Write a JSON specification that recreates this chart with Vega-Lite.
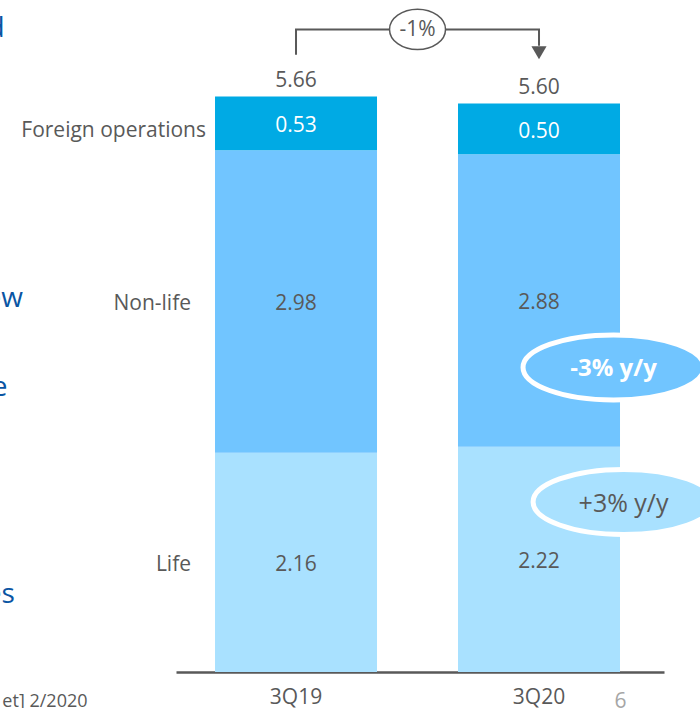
{
  "$schema": "https://vega.github.io/schema/vega-lite/v6.json",
  "width": 488,
  "height": 672,
  "autosize": {"type": "none"},
  "padding": {"left": 176, "top": 0, "right": 36, "bottom": 36},
  "background": "white",
  "config": {
    "view": {"stroke": null},
    "font": "Open Sans",
    "text": {"font": "Open Sans"},
    "axisX": {
      "title": null,
      "domainColor": "#595959",
      "domainWidth": 2.5,
      "ticks": false,
      "tickSize": 0,
      "labelPadding": 14,
      "labelFontSize": 21,
      "labelColor": "#595959",
      "labelFont": "Open Sans",
      "labelAngle": 0
    }
  },
  "datasets": {
    "main": [
      {"q": "3Q19", "seg": "Life", "v": 2.16, "ord": 1},
      {"q": "3Q19", "seg": "Non-life", "v": 2.98, "ord": 2},
      {"q": "3Q19", "seg": "Foreign operations", "v": 0.53, "ord": 3},
      {"q": "3Q20", "seg": "Life", "v": 2.22, "ord": 1},
      {"q": "3Q20", "seg": "Non-life", "v": 2.88, "ord": 2},
      {"q": "3Q20", "seg": "Foreign operations", "v": 0.50, "ord": 3}
    ],
    "totals": [
      {"q": "3Q19", "total": 5.66},
      {"q": "3Q20", "total": 5.60}
    ],
    "bracket": [
      {"q": "3Q19", "yv": 6.08, "o": 1},
      {"q": "3Q19", "yv": 6.33, "o": 2},
      {"q": "3Q20", "yv": 6.33, "o": 3},
      {"q": "3Q20", "yv": 6.17, "o": 4}
    ],
    "arrow": [{"q": "3Q20", "yv": 6.1}],
    "change": [{"q": "3Q19", "yv": 6.33, "label": "-1%"}],
    "yoy": [
      {"q": "3Q20", "seg": "Non-life", "yv": 3.0, "label": "-3% y/y"},
      {"q": "3Q20", "seg": "Life", "yv": 1.675, "label": "+3% y/y"}
    ],
    "notes": [
      {"q": "3Q19", "txt": "d", "yv": 6.256},
      {"q": "3Q19", "txt": "ew", "yv": 3.675},
      {"q": "3Q19", "txt": "e", "yv": 2.798},
      {"q": "3Q19", "txt": "es", "yv": 0.759},
      {"q": "3Q19", "txt": "et] 2/2020", "yv": -0.34},
      {"q": "3Q20", "txt": "6", "yv": -0.35}
    ]
  },
  "layer": [
    {
      "data": {"name": "main"},
      "mark": {"type": "bar"},
      "encoding": {
        "x": {"field": "q", "type": "nominal", "title": null,
              "scale": {"type": "band", "domain": ["3Q19", "3Q20"], "paddingInner": 0.3333, "paddingOuter": 0.1708, "align": 0.47}},
        "y": {"aggregate": "sum", "field": "v", "type": "quantitative", "stack": "zero", "axis": null,
              "scale": {"domain": [0, 6.62], "nice": false, "zero": true}},
        "color": {"field": "seg", "type": "nominal", "legend": null,
                  "scale": {"domain": ["Life", "Non-life", "Foreign operations"], "range": ["#A9E1FF", "#71C5FF", "#00AAE4"]}},
        "order": {"field": "ord", "type": "quantitative"}
      }
    },
    {
      "data": {"name": "main"},
      "transform": [
        {"stack": "v", "groupby": ["q"], "sort": [{"field": "ord", "order": "ascending"}], "as": ["y0", "y1"]},
        {"fold": ["y0", "y1"], "as": ["k", "yy"]}
      ],
      "mark": {"type": "text", "fontSize": 21, "align": "center", "baseline": "middle", "dy": 3},
      "encoding": {
        "x": {"field": "q", "type": "nominal", "title": null, "scale": {"type": "band", "domain": ["3Q19", "3Q20"], "paddingInner": 0.3333, "paddingOuter": 0.1708, "align": 0.47}},
        "y": {"aggregate": "mean", "field": "yy", "type": "quantitative", "stack": null, "axis": null},
        "detail": {"field": "seg", "type": "nominal"},
        "text": {"field": "v", "type": "quantitative", "format": ".2f"},
        "color": {"condition": {"test": "datum.seg === 'Foreign operations'", "value": "#ffffff"}, "value": "#595959"}
      }
    },
    {
      "data": {"name": "main"},
      "transform": [
        {"stack": "v", "groupby": ["q"], "sort": [{"field": "ord", "order": "ascending"}], "as": ["y0", "y1"]},
        {"filter": "datum.q === '3Q19' && datum.seg === 'Foreign operations'"},
        {"fold": ["y0", "y1"], "as": ["k", "yy"]}
      ],
      "mark": {"type": "text", "fontSize": 21, "align": "right", "baseline": "middle", "color": "#595959", "dx": -9, "dy": 8},
      "encoding": {
        "x": {"field": "q", "type": "nominal", "title": null, "bandPosition": 0, "scale": {"type": "band", "domain": ["3Q19", "3Q20"], "paddingInner": 0.3333, "paddingOuter": 0.1708, "align": 0.47}},
        "y": {"aggregate": "mean", "field": "yy", "type": "quantitative", "stack": null, "axis": null},
        "text": {"field": "seg", "type": "nominal"}
      }
    },
    {
      "data": {"name": "main"},
      "transform": [
        {"stack": "v", "groupby": ["q"], "sort": [{"field": "ord", "order": "ascending"}], "as": ["y0", "y1"]},
        {"filter": "datum.q === '3Q19' && datum.seg !== 'Foreign operations'"},
        {"fold": ["y0", "y1"], "as": ["k", "yy"]}
      ],
      "mark": {"type": "text", "fontSize": 21, "align": "right", "baseline": "middle", "color": "#595959", "dx": -24, "dy": 3},
      "encoding": {
        "x": {"field": "q", "type": "nominal", "title": null, "bandPosition": 0, "scale": {"type": "band", "domain": ["3Q19", "3Q20"], "paddingInner": 0.3333, "paddingOuter": 0.1708, "align": 0.47}},
        "y": {"aggregate": "mean", "field": "yy", "type": "quantitative", "stack": null, "axis": null},
        "text": {"field": "seg", "type": "nominal"}
      }
    },
    {
      "data": {"name": "totals"},
      "mark": {"type": "text", "fontSize": 21, "align": "center", "baseline": "alphabetic", "color": "#595959", "dy": -10},
      "encoding": {
        "x": {"field": "q", "type": "nominal", "title": null, "scale": {"type": "band", "domain": ["3Q19", "3Q20"], "paddingInner": 0.3333, "paddingOuter": 0.1708, "align": 0.47}},
        "y": {"field": "total", "type": "quantitative", "axis": null},
        "text": {"field": "total", "type": "quantitative", "format": ".2f"}
      }
    },
    {
      "data": {"name": "bracket"},
      "mark": {"type": "line", "color": "#595959", "strokeWidth": 2},
      "encoding": {
        "x": {"field": "q", "type": "nominal", "title": null, "scale": {"type": "band", "domain": ["3Q19", "3Q20"], "paddingInner": 0.3333, "paddingOuter": 0.1708, "align": 0.47}},
        "y": {"field": "yv", "type": "quantitative", "axis": null},
        "order": {"field": "o", "type": "quantitative"}
      }
    },
    {
      "data": {"name": "arrow"},
      "mark": {"type": "point", "shape": "triangle-down", "filled": true, "color": "#595959", "size": 230, "opacity": 1},
      "encoding": {
        "x": {"field": "q", "type": "nominal", "title": null, "scale": {"type": "band", "domain": ["3Q19", "3Q20"], "paddingInner": 0.3333, "paddingOuter": 0.1708, "align": 0.47}},
        "y": {"field": "yv", "type": "quantitative", "axis": null}
      }
    },
    {
      "data": {"name": "change"},
      "mark": {"type": "point", "shape": "M -1 0 A 1 0.72 0 1 1 1 0 A 1 0.72 0 1 1 -1 0 Z", "filled": true, "fill": "#ffffff", "stroke": "#595959", "strokeWidth": 1.5, "size": 3136, "opacity": 1, "fillOpacity": 1, "strokeOpacity": 1},
      "encoding": {
        "x": {"field": "q", "type": "nominal", "title": null, "bandPosition": 1.25, "scale": {"type": "band", "domain": ["3Q19", "3Q20"], "paddingInner": 0.3333, "paddingOuter": 0.1708, "align": 0.47}},
        "y": {"field": "yv", "type": "quantitative", "axis": null}
      }
    },
    {
      "data": {"name": "change"},
      "mark": {"type": "text", "fontSize": 21, "align": "center", "baseline": "middle", "color": "#595959", "dy": 1},
      "encoding": {
        "x": {"field": "q", "type": "nominal", "title": null, "bandPosition": 1.25, "scale": {"type": "band", "domain": ["3Q19", "3Q20"], "paddingInner": 0.3333, "paddingOuter": 0.1708, "align": 0.47}},
        "y": {"field": "yv", "type": "quantitative", "axis": null},
        "text": {"field": "label", "type": "nominal"}
      }
    },
    {
      "data": {"name": "yoy"},
      "transform": [{"filter": "datum.seg === 'Non-life'"}],
      "mark": {"type": "point", "shape": "M -1 0 A 1 0.36 0 1 1 1 0 A 1 0.36 0 1 1 -1 0 Z", "filled": true, "stroke": "#ffffff", "strokeWidth": 5, "size": 32761, "opacity": 1, "strokeOpacity": 1},
      "encoding": {
        "x": {"field": "q", "type": "nominal", "title": null, "bandPosition": 0.96, "scale": {"type": "band", "domain": ["3Q19", "3Q20"], "paddingInner": 0.3333, "paddingOuter": 0.1708, "align": 0.47}},
        "y": {"field": "yv", "type": "quantitative", "axis": null},
        "color": {"field": "seg", "type": "nominal", "legend": null}
      }
    },
    {
      "data": {"name": "yoy"},
      "transform": [{"filter": "datum.seg === 'Non-life'"}],
      "mark": {"type": "text", "fontSize": 24, "fontWeight": "bold", "align": "center", "baseline": "middle", "color": "#ffffff", "dy": 2},
      "encoding": {
        "x": {"field": "q", "type": "nominal", "title": null, "bandPosition": 0.96, "scale": {"type": "band", "domain": ["3Q19", "3Q20"], "paddingInner": 0.3333, "paddingOuter": 0.1708, "align": 0.47}},
        "y": {"field": "yv", "type": "quantitative", "axis": null},
        "text": {"field": "label", "type": "nominal"}
      }
    },
    {
      "data": {"name": "yoy"},
      "transform": [{"filter": "datum.seg === 'Life'"}],
      "mark": {"type": "point", "shape": "M -1 0 A 1 0.36 0 1 1 1 0 A 1 0.36 0 1 1 -1 0 Z", "filled": true, "stroke": "#ffffff", "strokeWidth": 5, "size": 32761, "opacity": 1, "strokeOpacity": 1},
      "encoding": {
        "x": {"field": "q", "type": "nominal", "title": null, "bandPosition": 1.022, "scale": {"type": "band", "domain": ["3Q19", "3Q20"], "paddingInner": 0.3333, "paddingOuter": 0.1708, "align": 0.47}},
        "y": {"field": "yv", "type": "quantitative", "axis": null},
        "color": {"field": "seg", "type": "nominal", "legend": null}
      }
    },
    {
      "data": {"name": "yoy"},
      "transform": [{"filter": "datum.seg === 'Life'"}],
      "mark": {"type": "text", "fontSize": 25, "align": "center", "baseline": "middle", "color": "#595959", "dy": 2},
      "encoding": {
        "x": {"field": "q", "type": "nominal", "title": null, "bandPosition": 1.022, "scale": {"type": "band", "domain": ["3Q19", "3Q20"], "paddingInner": 0.3333, "paddingOuter": 0.1708, "align": 0.47}},
        "y": {"field": "yv", "type": "quantitative", "axis": null},
        "text": {"field": "label", "type": "nominal"}
      }
    },
    {
      "data": {"name": "notes"},
      "transform": [{"filter": "datum.txt === 'd'"}],
      "mark": {"type": "text", "fontSize": 28, "align": "right", "baseline": "alphabetic", "color": "#0A55A3"},
      "encoding": {
        "x": {"field": "q", "type": "nominal", "title": null, "bandPosition": -1.299, "scale": {"type": "band", "domain": ["3Q19", "3Q20"], "paddingInner": 0.3333, "paddingOuter": 0.1708, "align": 0.47}},
        "y": {"field": "yv", "type": "quantitative", "axis": null},
        "text": {"field": "txt", "type": "nominal"}
      }
    },
    {
      "data": {"name": "notes"},
      "transform": [{"filter": "datum.txt === 'ew'"}],
      "mark": {"type": "text", "fontSize": 28, "align": "right", "baseline": "middle", "color": "#0A55A3"},
      "encoding": {
        "x": {"field": "q", "type": "nominal", "title": null, "bandPosition": -1.185, "scale": {"type": "band", "domain": ["3Q19", "3Q20"], "paddingInner": 0.3333, "paddingOuter": 0.1708, "align": 0.47}},
        "y": {"field": "yv", "type": "quantitative", "axis": null},
        "text": {"field": "txt", "type": "nominal"}
      }
    },
    {
      "data": {"name": "notes"},
      "transform": [{"filter": "datum.txt === 'e'"}],
      "mark": {"type": "text", "fontSize": 28, "align": "right", "baseline": "middle", "color": "#0A55A3"},
      "encoding": {
        "x": {"field": "q", "type": "nominal", "title": null, "bandPosition": -1.281, "scale": {"type": "band", "domain": ["3Q19", "3Q20"], "paddingInner": 0.3333, "paddingOuter": 0.1708, "align": 0.47}},
        "y": {"field": "yv", "type": "quantitative", "axis": null},
        "text": {"field": "txt", "type": "nominal"}
      }
    },
    {
      "data": {"name": "notes"},
      "transform": [{"filter": "datum.txt === 'es'"}],
      "mark": {"type": "text", "fontSize": 28, "align": "right", "baseline": "middle", "color": "#0A55A3"},
      "encoding": {
        "x": {"field": "q", "type": "nominal", "title": null, "bandPosition": -1.235, "scale": {"type": "band", "domain": ["3Q19", "3Q20"], "paddingInner": 0.3333, "paddingOuter": 0.1708, "align": 0.47}},
        "y": {"field": "yv", "type": "quantitative", "axis": null},
        "text": {"field": "txt", "type": "nominal"}
      }
    },
    {
      "data": {"name": "notes"},
      "transform": [{"filter": "datum.txt === 'et] 2/2020'"}],
      "mark": {"type": "text", "fontSize": 18, "align": "right", "baseline": "alphabetic", "color": "#595959"},
      "encoding": {
        "x": {"field": "q", "type": "nominal", "title": null, "bandPosition": -0.787, "scale": {"type": "band", "domain": ["3Q19", "3Q20"], "paddingInner": 0.3333, "paddingOuter": 0.1708, "align": 0.47}},
        "y": {"field": "yv", "type": "quantitative", "axis": null},
        "text": {"field": "txt", "type": "nominal"}
      }
    },
    {
      "data": {"name": "notes"},
      "transform": [{"filter": "datum.txt === '6'"}],
      "mark": {"type": "text", "fontSize": 21, "align": "center", "baseline": "alphabetic", "color": "#A6A6A6"},
      "encoding": {
        "x": {"field": "q", "type": "nominal", "title": null, "bandPosition": 1.003, "scale": {"type": "band", "domain": ["3Q19", "3Q20"], "paddingInner": 0.3333, "paddingOuter": 0.1708, "align": 0.47}},
        "y": {"field": "yv", "type": "quantitative", "axis": null},
        "text": {"field": "txt", "type": "nominal"}
      }
    }
  ]
}
